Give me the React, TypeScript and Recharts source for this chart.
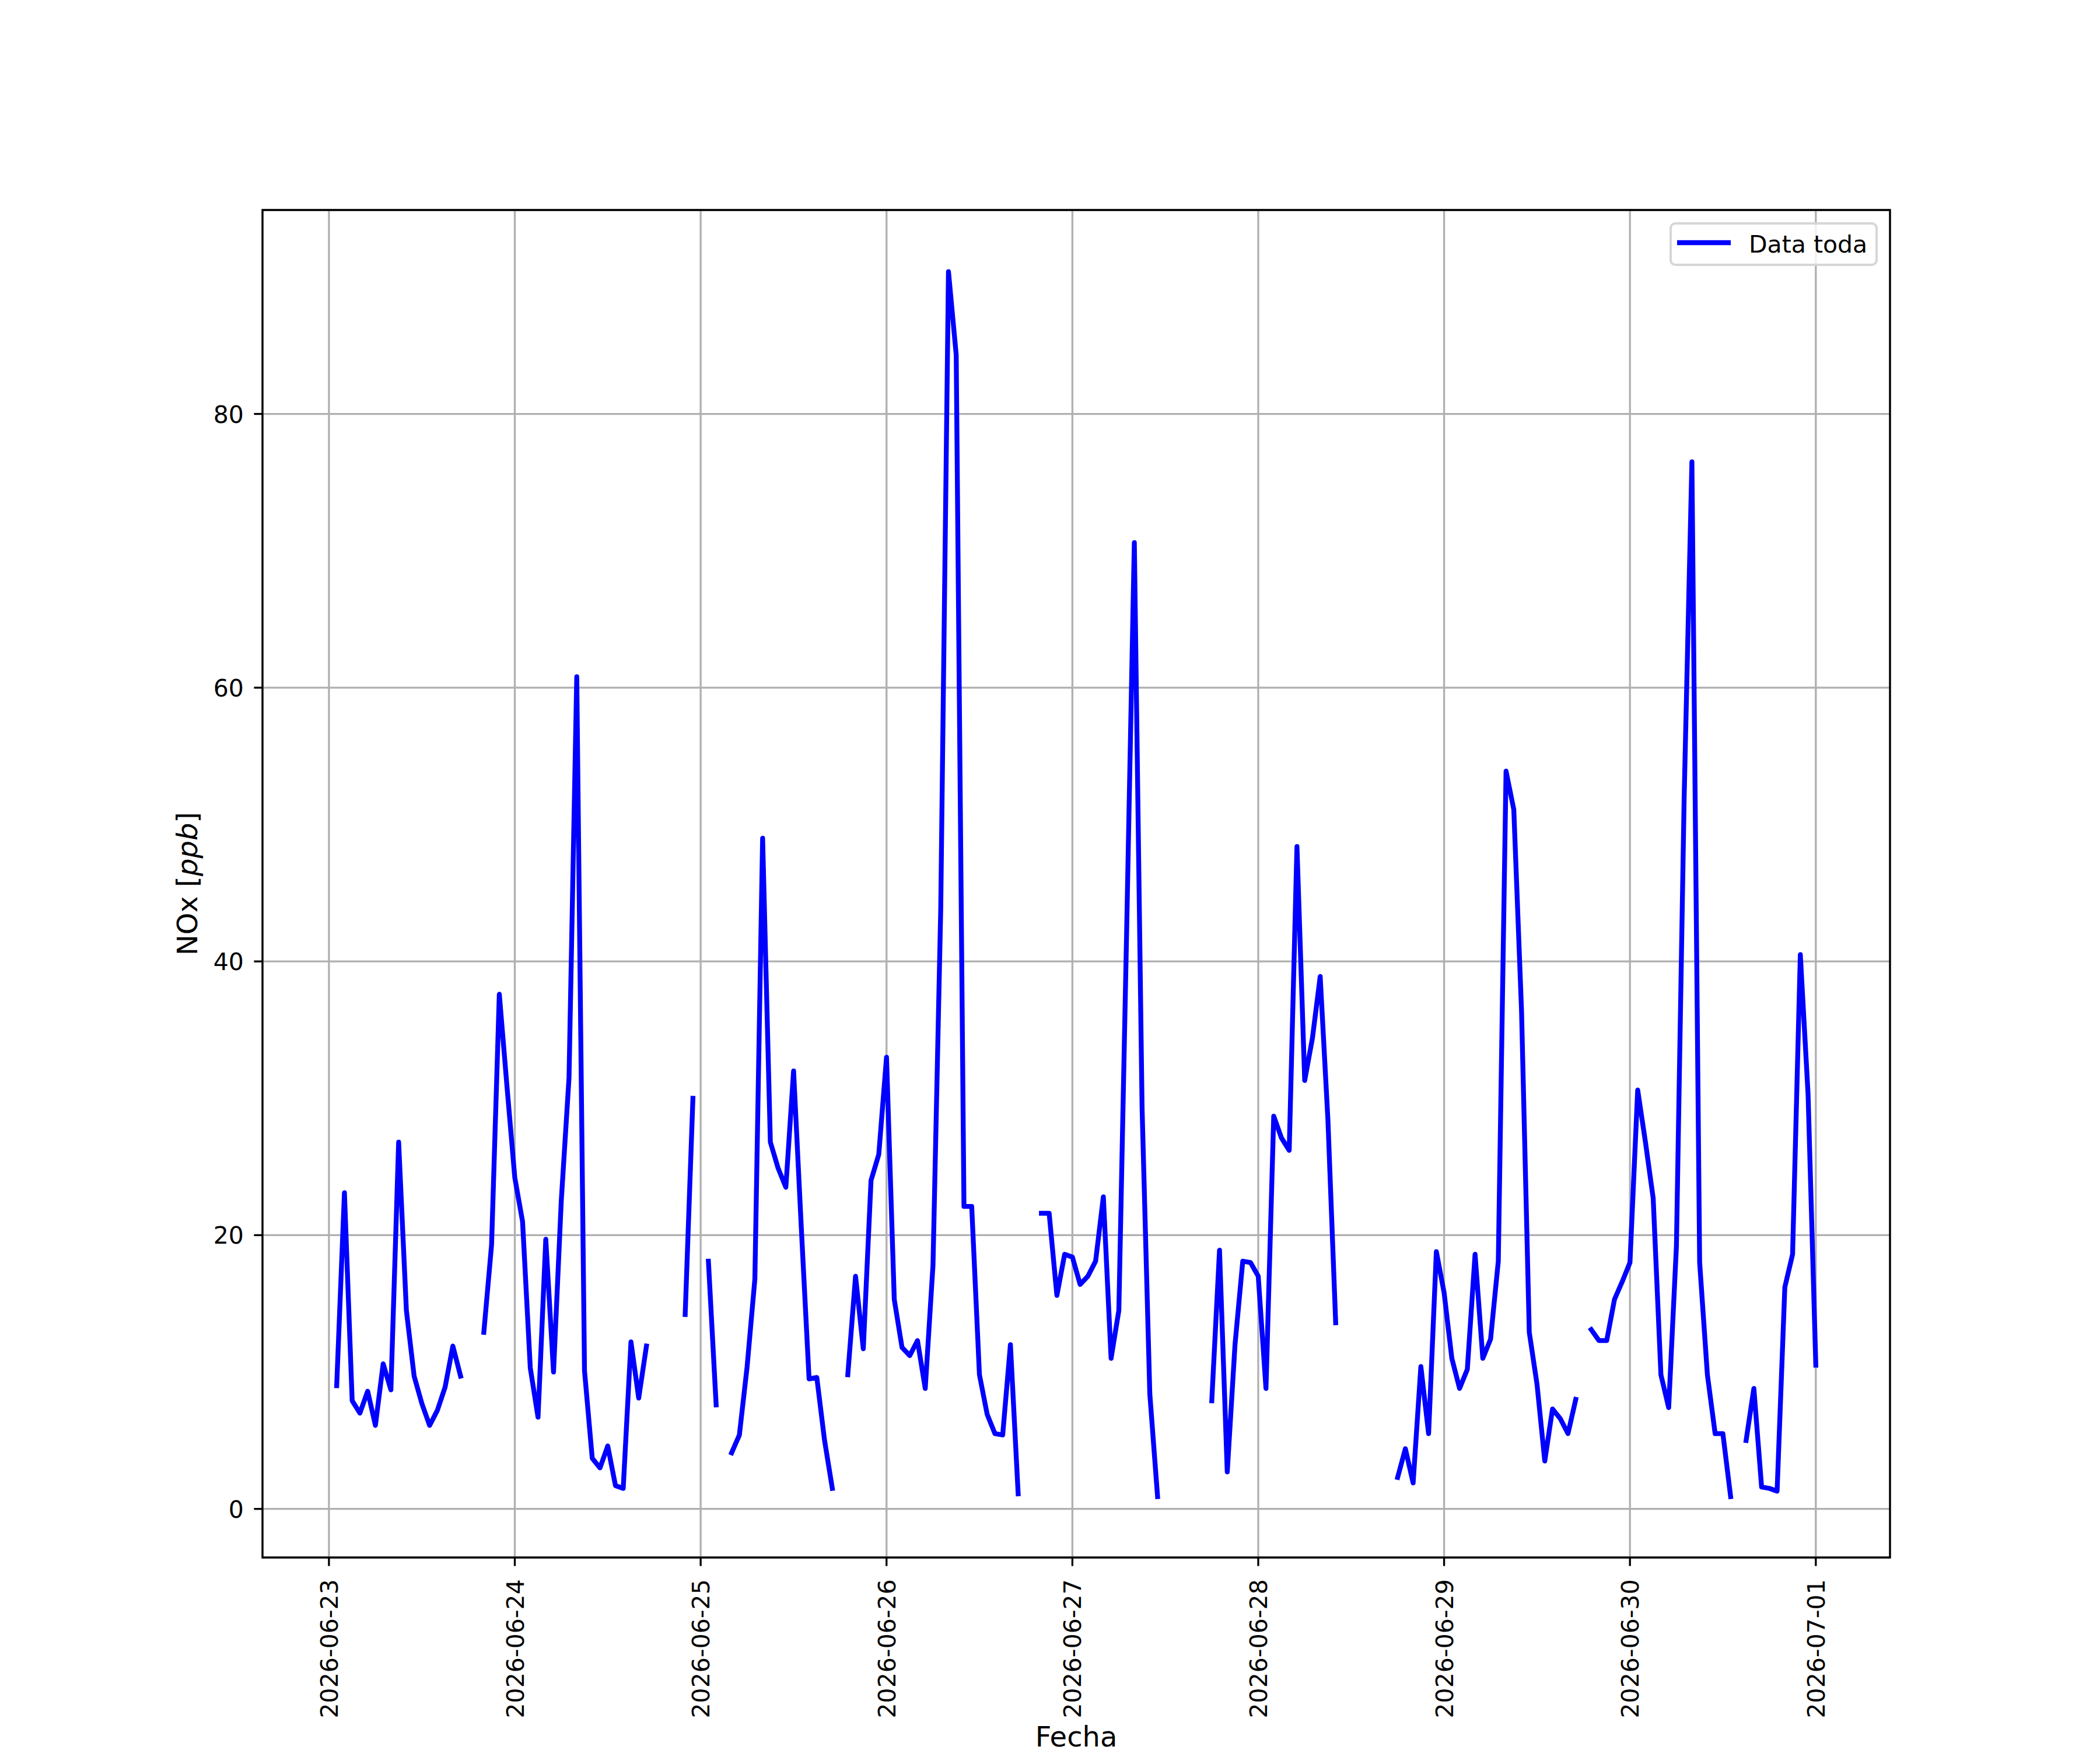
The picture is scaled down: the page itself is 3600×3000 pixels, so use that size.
import React from 'react';
import { LineChart, Line, XAxis, YAxis, CartesianGrid, ReferenceArea, Legend } from 'recharts';

// Tick labels (one per day, at 00:00)
const dayLabels = [
  '2026-06-23', '2026-06-24', '2026-06-25', '2026-06-26', '2026-06-27',
  '2026-06-28', '2026-06-29', '2026-06-30', '2026-07-01',
];
const yTicks = [0, 20, 40, 60, 80];

// Hourly NOx values (ppb), hours 00..23 of each day; null = missing
const day0623 = [null, 9.0, 23.1, 7.9, 7.0, 8.6, 6.1, 10.6, 8.7, 26.8, 14.5, 9.7, 7.7, 6.1, 7.2, 8.9, 11.9, 9.7, null, null, 12.9, 19.3, 37.6, 30.8];
const day0624 = [24.2, 21.0, 10.3, 6.7, 19.7, 10.0, 22.5, 31.5, 60.8, 10.1, 3.7, 3.0, 4.6, 1.7, 1.5, 12.2, 8.1, 11.9, null, null, null, null, 14.2, 30.0];
const day0625 = [null, 18.1, 7.6, null, 4.1, 5.4, 10.4, 16.8, 49.0, 26.8, 24.9, 23.5, 32.0, 20.5, 9.5, 9.6, 5.0, 1.5, null, 9.8, 17.0, 11.7, 24.0, 25.9];
const day0626 = [33.0, 15.3, 11.8, 11.2, 12.3, 8.8, 17.8, 43.8, 90.4, 84.3, 22.1, 22.1, 9.8, 6.9, 5.5, 5.4, 12.0, 1.1, null, null, 21.6, 21.6, 15.6, 18.6];
const day0627 = [18.4, 16.4, 17.0, 18.1, 22.8, 11.0, 14.5, 42.0, 70.6, 29.3, 8.4, 0.9, null, null, null, null, null, null, 7.9, 18.9, 2.7, 12.0, 18.1, 18.0];
const day0628 = [17.0, 8.8, 28.7, 27.1, 26.2, 48.4, 31.3, 34.4, 38.9, 28.4, 13.6, null, null, null, null, null, null, null, 2.3, 4.4, 1.9, 10.4, 5.5, 18.8];
const day0629 = [15.8, 11.0, 8.8, 10.2, 18.6, 11.0, 12.4, 18.1, 53.9, 51.1, 36.4, 12.9, 9.1, 3.5, 7.3, 6.6, 5.5, 8.0, null, 13.1, 12.3, 12.3, 15.3, 16.6];
const day0630 = [18.0, 30.6, 26.8, 22.7, 9.8, 7.4, 19.2, 52.0, 76.5, 18.0, 9.8, 5.5, 5.5, 0.9, null, 5.0, 8.8, 1.6, 1.5, 1.3, 16.2, 18.6, 40.5, 30.3];
const day0701 = [10.5];

const days = [day0623, day0624, day0625, day0626, day0627, day0628, day0629, day0630, day0701];

const data: { t: number; nox: number | null }[] = [];
days.forEach((arr, d) => {
  arr.forEach((v, h) => {
    data.push({ t: d * 24 + h, nox: v });
  });
});

const xTicks = dayLabels.map((_, i) => i * 24);
const xDomain: [number, number] = [-8.58, 201.58];
const yDomain: [number, number] = [-3.55, 94.9];

const FONT = 'DejaVu Sans';

const XTick = (props: any) => {
  const { x, y, payload } = props;
  const label = dayLabels[Math.round(payload.value / 24)];
  const bx = x + 15;
  const by = y + 8;
  return (
    <text
      x={bx}
      y={by}
      transform={`rotate(-90, ${bx}, ${by})`}
      textAnchor="end"
      fontFamily={FONT}
      fontSize={41}
      fill="#000"
    >
      {label}
    </text>
  );
};

const YTick = (props: any) => {
  const { x, y, payload } = props;
  return (
    <text x={x - 3} y={y + 15} textAnchor="end" fontFamily={FONT} fontSize={41} fill="#000">
      {String(payload.value)}
    </text>
  );
};

const XLabel = () => (
  <text x={1845} y={2994} textAnchor="middle" fontFamily={FONT} fontSize={48} fill="#000">
    Fecha
  </text>
);

const YLabel = () => (
  <text
    x={338}
    y={1515}
    transform="rotate(-90, 338, 1515)"
    textAnchor="middle"
    fontFamily={FONT}
    fontSize={48}
    fill="#000"
  >
    <tspan>NOx [</tspan>
    <tspan fontStyle="italic">ppb</tspan>
    <tspan>]</tspan>
  </text>
);

const LegendBox = () => (
  <svg width={357} height={75} style={{ display: 'block' }}>
    <rect x={2} y={2} width={353} height={71} rx={8} ry={8} fill="rgba(255,255,255,0.8)" stroke="#d6d6d6" strokeWidth={4} />
    <line x1={13} y1={35} x2={105} y2={35} stroke="#0000ff" strokeWidth={8.33} />
    <text x={136} y={51.5} fontFamily={FONT} fontSize={41} fill="#000">
      Data toda
    </text>
  </svg>
);

export default function App() {
  return (
    <div style={{ position: 'absolute', left: 0, top: 0, width: 3600, height: 3000, background: '#fff' }}>
      <LineChart
        width={3600}
        height={3000}
        data={data}
        margin={{ top: 360, right: 360, bottom: 300, left: 390 }}
      >
        <CartesianGrid stroke="#b0b0b0" strokeWidth={3.33} />
        <XAxis
          dataKey="t"
          type="number"
          domain={xDomain}
          allowDataOverflow
          ticks={xTicks}
          interval={0}
          height={30}
          axisLine={false}
          tickLine={{ stroke: '#000', strokeWidth: 3.33 }}
          tickSize={14.6}
          tickMargin={14.6}
          tick={<XTick />}
          label={{ content: <XLabel /> }}
        />
        <YAxis
          type="number"
          domain={yDomain}
          allowDataOverflow
          ticks={yTicks}
          interval={0}
          width={60}
          axisLine={false}
          tickLine={{ stroke: '#000', strokeWidth: 3.33 }}
          tickSize={14.6}
          tickMargin={14.6}
          tick={<YTick />}
          label={{ content: <YLabel /> }}
        />
        <Line
          type="linear"
          dataKey="nox"
          name="Data toda"
          stroke="#0000ff"
          strokeWidth={8.33}
          strokeLinejoin="round"
          strokeLinecap="square"
          dot={false}
          activeDot={false}
          connectNulls={false}
          isAnimationActive={false}
        />
        <ReferenceArea
          x1={xDomain[0]}
          x2={xDomain[1]}
          y1={yDomain[0]}
          y2={yDomain[1]}
          fill="none"
          fillOpacity={0}
          stroke="#000"
          strokeWidth={3.33}
          ifOverflow="visible"
        />
        <Legend
          layout="horizontal"
          verticalAlign="middle"
          align="center"
          wrapperStyle={{ position: 'absolute', left: 2862, top: 381, width: 357, height: 75 }}
          content={<LegendBox />}
        />
      </LineChart>
    </div>
  );
}
